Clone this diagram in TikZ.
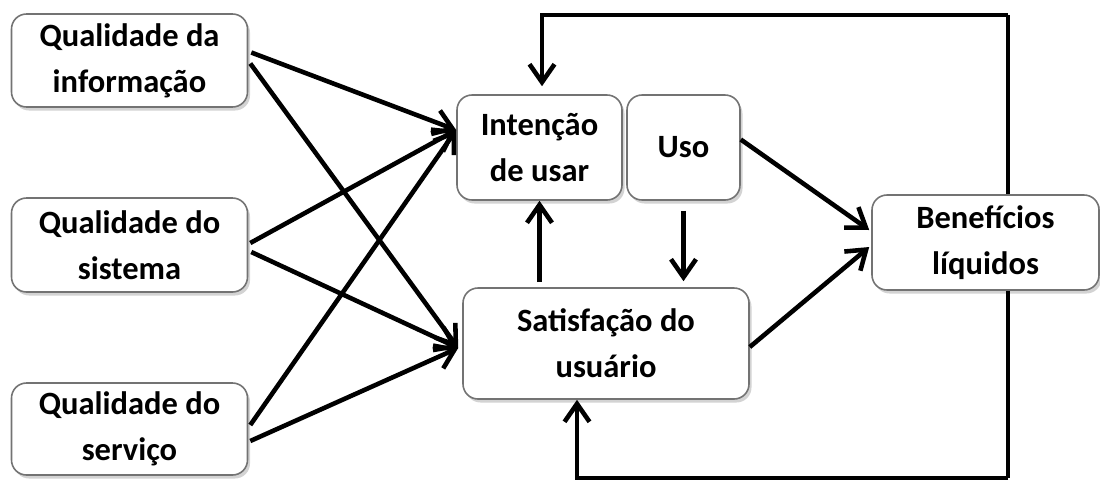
\documentclass[tikz,border=0pt]{standalone}
\usepackage{fontspec}
\setmainfont{Carlito}
\usetikzlibrary{arrows.meta,shadows,calc}

\begin{document}
\begin{tikzpicture}[
    box/.style={rectangle,rounded corners=0.3cm,draw=black!55,line width=0.9pt,fill=white,
        drop shadow={opacity=0.35,shadow xshift=0.05cm,shadow yshift=-0.07cm},
        align=center,font=\bfseries\fontsize{18.5}{26}\selectfont},
    conn/.style={line width=2.6pt,-{Straight Barb[length=0.36cm,width=0.5cm,line width=2.6pt]}},
    line/.style={line width=2.6pt}
]
\useasboundingbox (0,0) rectangle (22,-9.58);
        % Dimensoes de qualidade
\node[box,minimum width=4.72cm,minimum height=1.86cm] (info) at (2.59,-1.21) {Qualidade da\\informação};
\node[box,minimum width=4.72cm,minimum height=1.88cm] (sistema) at (2.59,-4.90) {Qualidade do\\sistema};
\node[box,minimum width=4.72cm,minimum height=1.84cm] (servico) at (2.59,-8.58) {Qualidade do\\serviço};
        % Uso e satisfacao
\node[box,minimum width=3.30cm,minimum height=2.10cm] (intencao) at (10.79,-2.95) {Intenção\\de usar};
\node[box,minimum width=2.26cm,minimum height=2.10cm] (uso) at (13.67,-2.95) {Uso};
\node[box,minimum width=5.72cm,minimum height=2.22cm] (satisf) at (12.12,-6.87) {Satisfação do\\usuário};
\node[box,minimum width=4.54cm,minimum height=1.90cm] (benef) at (19.71,-4.85) {Benefícios\\líquidos};

\coordinate (inT) at ([yshift=0.35cm]intencao.west);
\coordinate (inS) at ([xshift=-0.08cm,yshift=-0.09cm]satisf.west);
\coordinate (fbtop) at (20.16,-0.30);
\coordinate (fbbot) at (20.16,-9.56);

\draw[conn] ([xshift=0.06cm,yshift=0.16cm]info.east) -- (inT);
\draw[conn] ([xshift=0.04cm,yshift=-0.06cm]info.east) -- (inS);
\draw[conn] ([xshift=0.04cm,yshift=0.04cm]sistema.east) -- (inT);
\draw[conn] ([xshift=0.06cm,yshift=-0.14cm]sistema.east) -- (inS);
\draw[conn] ([xshift=0.04cm,yshift=0.08cm]servico.east) -- (inT);
\draw[conn] ([xshift=0.04cm,yshift=-0.24cm]servico.east) -- (inS);

\draw[conn] ([yshift=0.16cm]uso.east) -- ([xshift=-0.04cm,yshift=0.25cm]benef.west);
\draw[conn] ([yshift=-0.07cm]satisf.east) -- ([xshift=-0.04cm,yshift=-0.09cm]benef.west);
\draw[conn,shorten <=0.1cm] (satisf.north -| intencao.south) -- (intencao.south);
\draw[conn,shorten <=0.2cm,shorten >=0.12cm] (uso.south) -- (uso.south |- satisf.north);

        % Realimentacao
\draw[line] ([xshift=0.45cm]benef.north) -- (fbtop);
\draw[conn,shorten >=0.16cm] (fbtop) -| ([xshift=0.05cm]intencao.north);
\draw[line] ([xshift=0.45cm]benef.south) -- (fbbot);
\draw[conn] (fbbot) -| ([xshift=-0.58cm]satisf.south);
\end{tikzpicture}
\end{document}
